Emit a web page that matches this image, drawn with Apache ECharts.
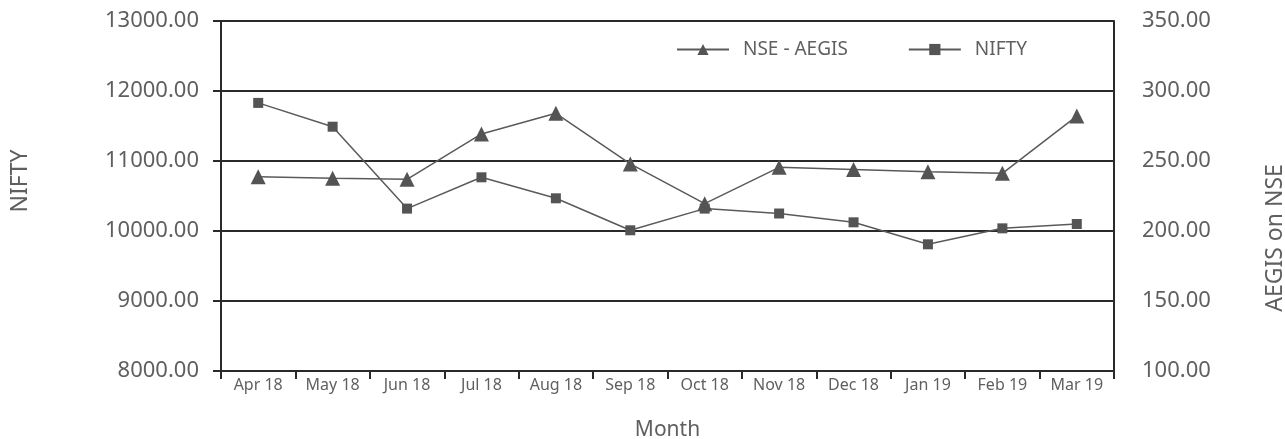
<!DOCTYPE html>
<html>
<head>
<meta charset="utf-8">
<script src="https://cdn.jsdelivr.net/npm/echarts@6/dist/echarts.min.js"></script>
<style>
html,body{margin:0;padding:0;background:#fff;overflow:hidden;}
#chart{width:1285px;height:439px;}
</style>
</head>
<body>
<div id="chart"></div>
<script>
const months = ['Apr 18','May 18','Jun 18','Jul 18','Aug 18','Sep 18','Oct 18','Nov 18','Dec 18','Jan 19','Feb 19','Mar 19'];
const aegis = [238.8, 237.6, 236.9, 269.3, 284.1, 247.9, 219.5, 245.5, 244.0, 242.4, 241.2, 282.1];
const nifty = [11830, 11490, 10320, 10767, 10467, 10010, 10320, 10250, 10124, 9810, 10038, 10100];

const font = '"Noto Sans", "Open Sans", sans-serif';
const txt = '#5f5f5f';
const axisCol = '#2a2a2a';
const lineCol = '#5a5a5a';

const chart = echarts.init(document.getElementById('chart'));
chart.setOption({
  animation: false,
  backgroundColor: '#fff',
  textStyle: {fontFamily: font},
  grid: {left: 221, right: 171, top: 21, bottom: 68, containLabel: false, outerBoundsMode: 'none'},
  legend: {
    top: 35, left: 671,
    itemWidth: 52, itemHeight: 14, itemGap: 60,
    textStyle: {fontFamily: font, fontSize: 19, color: txt, padding: [0,0,0,9]},
    data: ['NSE - AEGIS', 'NIFTY']
  },
  xAxis: {
    type: 'category',
    data: months,
    boundaryGap: true,
    name: 'Month',
    nameLocation: 'middle',
    nameGap: 49,
    nameTextStyle: {fontSize: 21, color: txt, fontFamily: font},
    axisLine: {lineStyle: {color: axisCol, width: 2}},
    axisTick: {show: true, interval: 0, length: 8, inside: false, lineStyle: {color: axisCol, width: 2}},
    axisLabel: {interval: 0, fontSize: 16, color: txt, fontFamily: font, margin: 6}
  },
  yAxis: [
    {
      type: 'value', min: 8000, max: 13000, interval: 1000,
      name: 'NIFTY', nameLocation: 'middle', nameGap: 189, nameRotate: 90,
      nameTextStyle: {fontSize: 23, color: txt, fontFamily: font, padding: [0,0,0,30]},
      axisLine: {show: true, lineStyle: {color: axisCol, width: 2}},
      axisTick: {show: true, length: 8, lineStyle: {color: axisCol, width: 2}},
      axisLabel: {fontSize: 22, color: txt, fontFamily: font, margin: 22, formatter: v => v.toFixed(2)},
      splitLine: {show: true, lineStyle: {color: axisCol, width: 2}}
    },
    {
      type: 'value', min: 100, max: 350, interval: 50,
      name: 'AEGIS on NSE', nameLocation: 'middle', nameGap: 150, nameRotate: 90,
      nameTextStyle: {fontSize: 23, color: txt, fontFamily: font, padding: [0,84,0,0]},
      axisLine: {show: true, lineStyle: {color: axisCol, width: 2}},
      axisTick: {show: true, inside: true, length: 6, lineStyle: {color: axisCol, width: 2}},
      axisLabel: {fontSize: 22, color: txt, fontFamily: font, margin: 28, formatter: v => v.toFixed(2)},
      splitLine: {show: false}
    }
  ],
  series: [
    {
      name: 'NSE - AEGIS', type: 'line', yAxisIndex: 1, data: aegis,
      symbol: 'triangle', symbolSize: 15, showAllSymbol: true,
      lineStyle: {color: lineCol, width: 1.5},
      itemStyle: {color: '#545454'}
    },
    {
      name: 'NIFTY', type: 'line', yAxisIndex: 0, data: nifty,
      symbol: 'rect', symbolSize: 10, showAllSymbol: true,
      lineStyle: {color: lineCol, width: 1.5},
      itemStyle: {color: '#545454'}
    }
  ]
});
</script>
</body>
</html>
